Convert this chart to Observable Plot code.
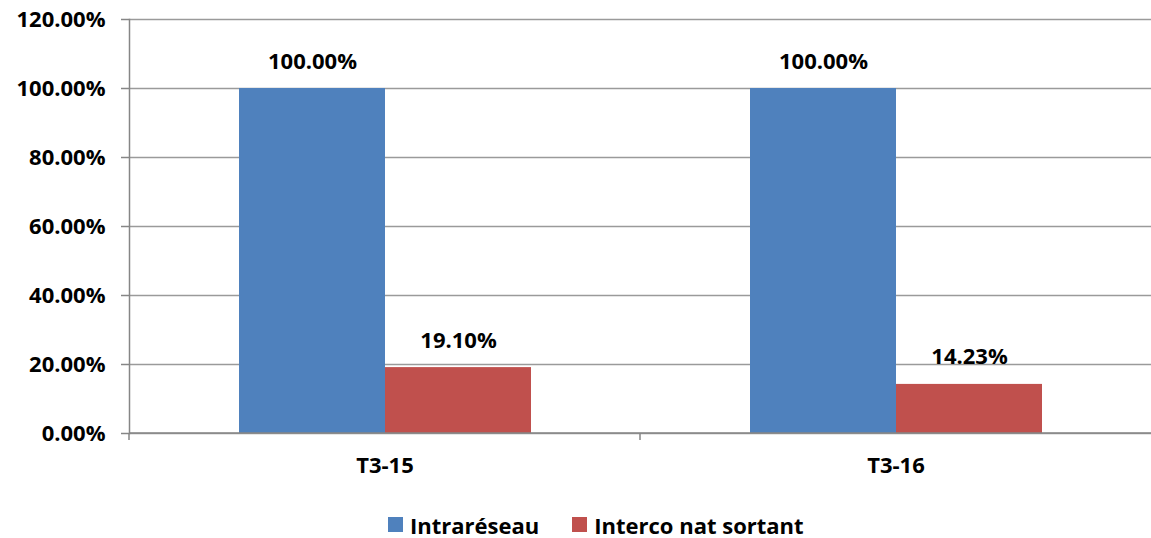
<!DOCTYPE html>
<html><head><meta charset="utf-8">
<script src="https://cdn.jsdelivr.net/npm/d3@7"></script>
<script src="https://cdn.jsdelivr.net/npm/@observablehq/plot@0.6"></script>
<style>
body{margin:0;background:#fff;font-family:"Open Sans",sans-serif;overflow:hidden;}
#legend{display:flex;align-items:center;height:69px;margin-left:388px;font-weight:bold;font-size:22px;color:#000;}
.item{display:flex;align-items:center;margin-right:33px;}
.sw{width:15px;height:15px;margin-right:7px;}
</style></head>
<body><div id="chart"></div><div id="legend"></div>
<script>
const categories = ["T3-15", "T3-16"];
const series = ["Intraréseau", "Interco nat sortant"];
const intrareseau = [100.00, 100.00];
const interco = [19.10, 14.23];
const yTicks = [0, 20, 40, 60, 80, 100, 120];
const colors = ["#4F81BD", "#C0504D"];

const data = [];
categories.forEach((c, i) => {
  data.push({cat: c, serie: series[0], value: intrareseau[i]});
  data.push({cat: c, serie: series[1], value: interco[i]});
});
const fmt = v => v.toFixed(2) + "%";

// per-facet: x-axis baseline across the facet and a small tick at the facet's left boundary
const facetAxis = (index, scales, values, dims) => {
  const g = d3.create("svg:g").attr("stroke", "#868686").attr("stroke-width", 1.5).attr("fill", "none");
  const y0 = scales.y(0);
  const left = dims.marginLeft, right = dims.width - dims.marginRight;
  g.append("line").attr("x1", left).attr("x2", right).attr("y1", y0).attr("y2", y0);
  g.append("line").attr("x1", left).attr("x2", left).attr("y1", y0).attr("y2", y0 + 7);
  return g.node();
};

const chart = Plot.plot({
  width: 1151,
  height: 490,
  marginLeft: 129,
  marginRight: 0,
  marginTop: 19,
  marginBottom: 57,
  style: {fontFamily: "Open Sans, sans-serif", fontWeight: "bold", fontSize: "22px", color: "#000", background: "#fff"},
  fx: {domain: categories, padding: 0, label: null},
  x: {domain: series, paddingInner: 0, paddingOuter: 0.74, axis: null},
  y: {domain: [0, 120], label: null},
  color: {domain: series, range: colors},
  marks: [
    Plot.gridY(yTicks, {stroke: "#9a9a9a", strokeWidth: 1.5, strokeOpacity: 1}),
    Plot.frame({anchor: "left", facetAnchor: "left", stroke: "#868686", strokeWidth: 1.5}),
    Plot.axisY(yTicks, {tickFormat: fmt, tickSize: 8, tickPadding: 16, stroke: "#868686", strokeWidth: 1.5, label: null, fill: "#000", fontWeight: "bold", fontSize: 22}),
    Plot.axisFx({anchor: "bottom", tickSize: 0, tickPadding: 24, label: null, fontWeight: "bold", fontSize: 22, fill: "#000"}),
    Plot.barY(data, {fx: "cat", x: "serie", y: "value", fill: "serie"}),
    Plot.text(data, {fx: "cat", x: "serie", y: "value", text: d => fmt(d.value), dy: -27, fontWeight: "bold", fontSize: 22, fill: "#000"}),
    facetAxis
  ]
});
document.getElementById("chart").appendChild(chart);

const legend = document.getElementById("legend");
series.forEach((s, i) => {
  const it = document.createElement("div");
  it.className = "item";
  const sw = document.createElement("div");
  sw.className = "sw";
  sw.style.background = colors[i];
  const t = document.createElement("span");
  t.textContent = s;
  it.appendChild(sw); it.appendChild(t);
  legend.appendChild(it);
});
</script></body></html>
